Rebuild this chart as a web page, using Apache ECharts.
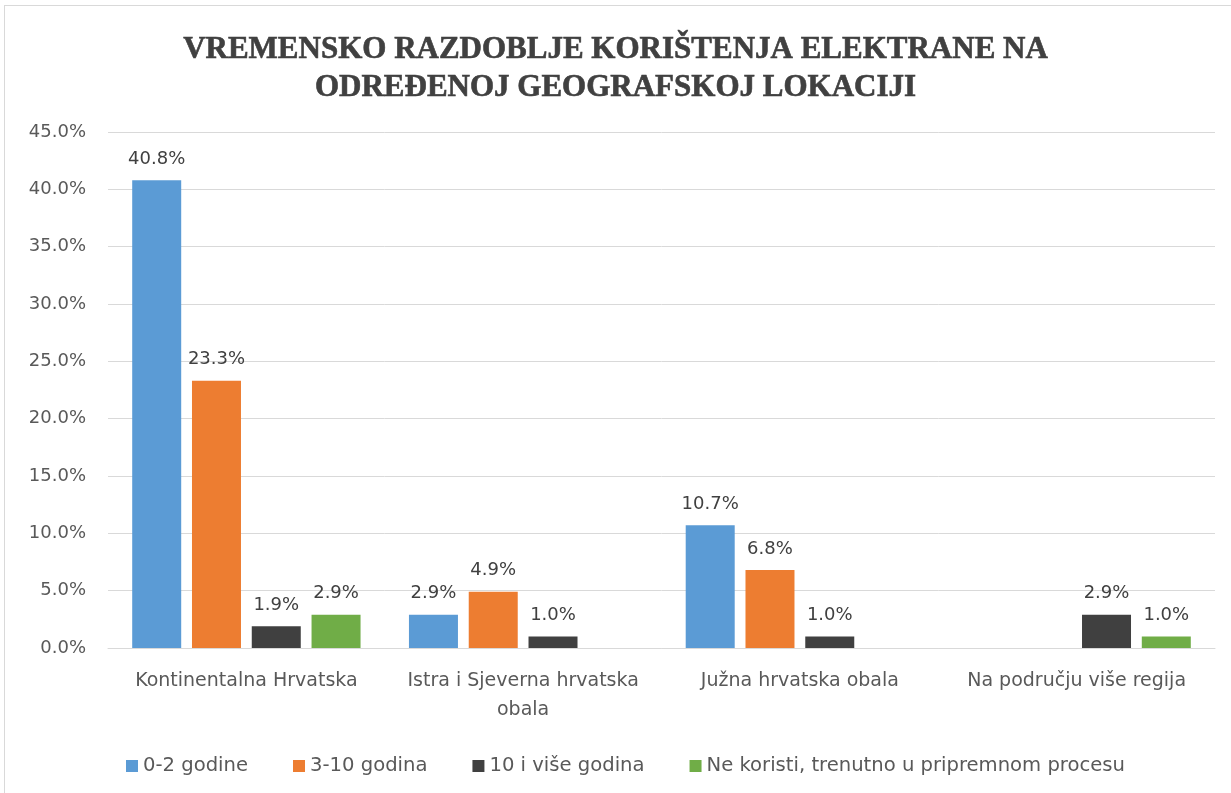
<!DOCTYPE html>
<html>
<head>
<meta charset="utf-8">
<script src="https://cdn.jsdelivr.net/npm/echarts@6/dist/echarts.min.js"></script>
<style>
  html, body { margin: 0; padding: 0; background: #fff; }
  #frame {
    position: absolute; left: 4px; top: 5px;
    width: 1240px; height: 800px;
    border: 1px solid #d9d9d9;
  }
  #chart { position: absolute; left: 0; top: 0; width: 1231px; height: 793px; }
</style>
</head>
<body>
<div id="frame"></div>
<div id="chart"></div>
<script>
// podaci
const categories = ['Kontinentalna Hrvatska', 'Istra i Sjeverna hrvatska\nobala', 'Južna hrvatska obala', 'Na području više regija'];
const seriesNames = ['0-2 godine', '3-10 godina', '10 i više godina', 'Ne koristi, trenutno u pripremnom procesu'];
const values02 = [40.8, 2.9, 10.7, null];
const values310 = [23.3, 4.9, 6.8, null];
const values10plus = [1.9, 1.0, 1.0, 2.9];
const valuesNone = [2.9, null, null, 1.0];
const colors = ['#5b9bd5', '#ed7d31', '#404040', '#70ad47'];

const font = '"DejaVu Sans", sans-serif';
const chart = echarts.init(document.getElementById('chart'));

function makeSeries(name, data, color) {
  return {
    name: name,
    type: 'bar',
    data: data,
    barWidth: 49,
    barGap: '22%',
    itemStyle: { color: color },
    label: {
      show: true,
      position: 'top',
      distance: 12,
      color: '#404040',
      fontFamily: font,
      fontSize: 18,
      formatter: p => p.value.toFixed(1) + '%'
    }
  };
}

const option = {
  animation: false,
  title: {
    text: 'VREMENSKO RAZDOBLJE KORIŠTENJA ELEKTRANE NA\nODREĐENOJ GEOGRAFSKOJ LOKACIJI',
    left: 'center',
    top: 26,
    textStyle: {
      fontFamily: '"Liberation Serif", serif',
      fontWeight: 'bold',
      fontSize: 31,
      lineHeight: 38,
      color: '#404040',
      textBorderColor: '#404040',
      textBorderWidth: 0.6
    }
  },
  grid: { left: 108, right: 16, top: 132, bottom: 145 },
  legend: {
    bottom: 12,
    left: 121,
    itemWidth: 12,
    itemHeight: 12,
    itemGap: 45,
    icon: 'rect',
    textStyle: { fontFamily: font, fontSize: 19.6, color: '#595959' },
    data: seriesNames
  },
  xAxis: {
    type: 'category',
    data: categories,
    axisLine: { lineStyle: { color: '#d9d9d9', width: 1 } },
    axisTick: { show: false },
    axisLabel: {
      interval: 0,
      margin: 19,
      color: '#595959',
      fontFamily: font,
      fontSize: 19,
      lineHeight: 29
    }
  },
  yAxis: {
    type: 'value',
    min: 0,
    max: 45,
    interval: 5,
    axisLine: { show: false },
    axisTick: { show: false },
    splitLine: { lineStyle: { color: '#d9d9d9', width: 1 } },
    axisLabel: {
      margin: 22,
      color: '#595959',
      fontFamily: font,
      fontSize: 18,
      formatter: v => v.toFixed(1) + '%'
    }
  },
  series: [
    makeSeries(seriesNames[0], values02, colors[0]),
    makeSeries(seriesNames[1], values310, colors[1]),
    makeSeries(seriesNames[2], values10plus, colors[2]),
    makeSeries(seriesNames[3], valuesNone, colors[3])
  ]
};

chart.setOption(option);
</script>
</body>
</html>
